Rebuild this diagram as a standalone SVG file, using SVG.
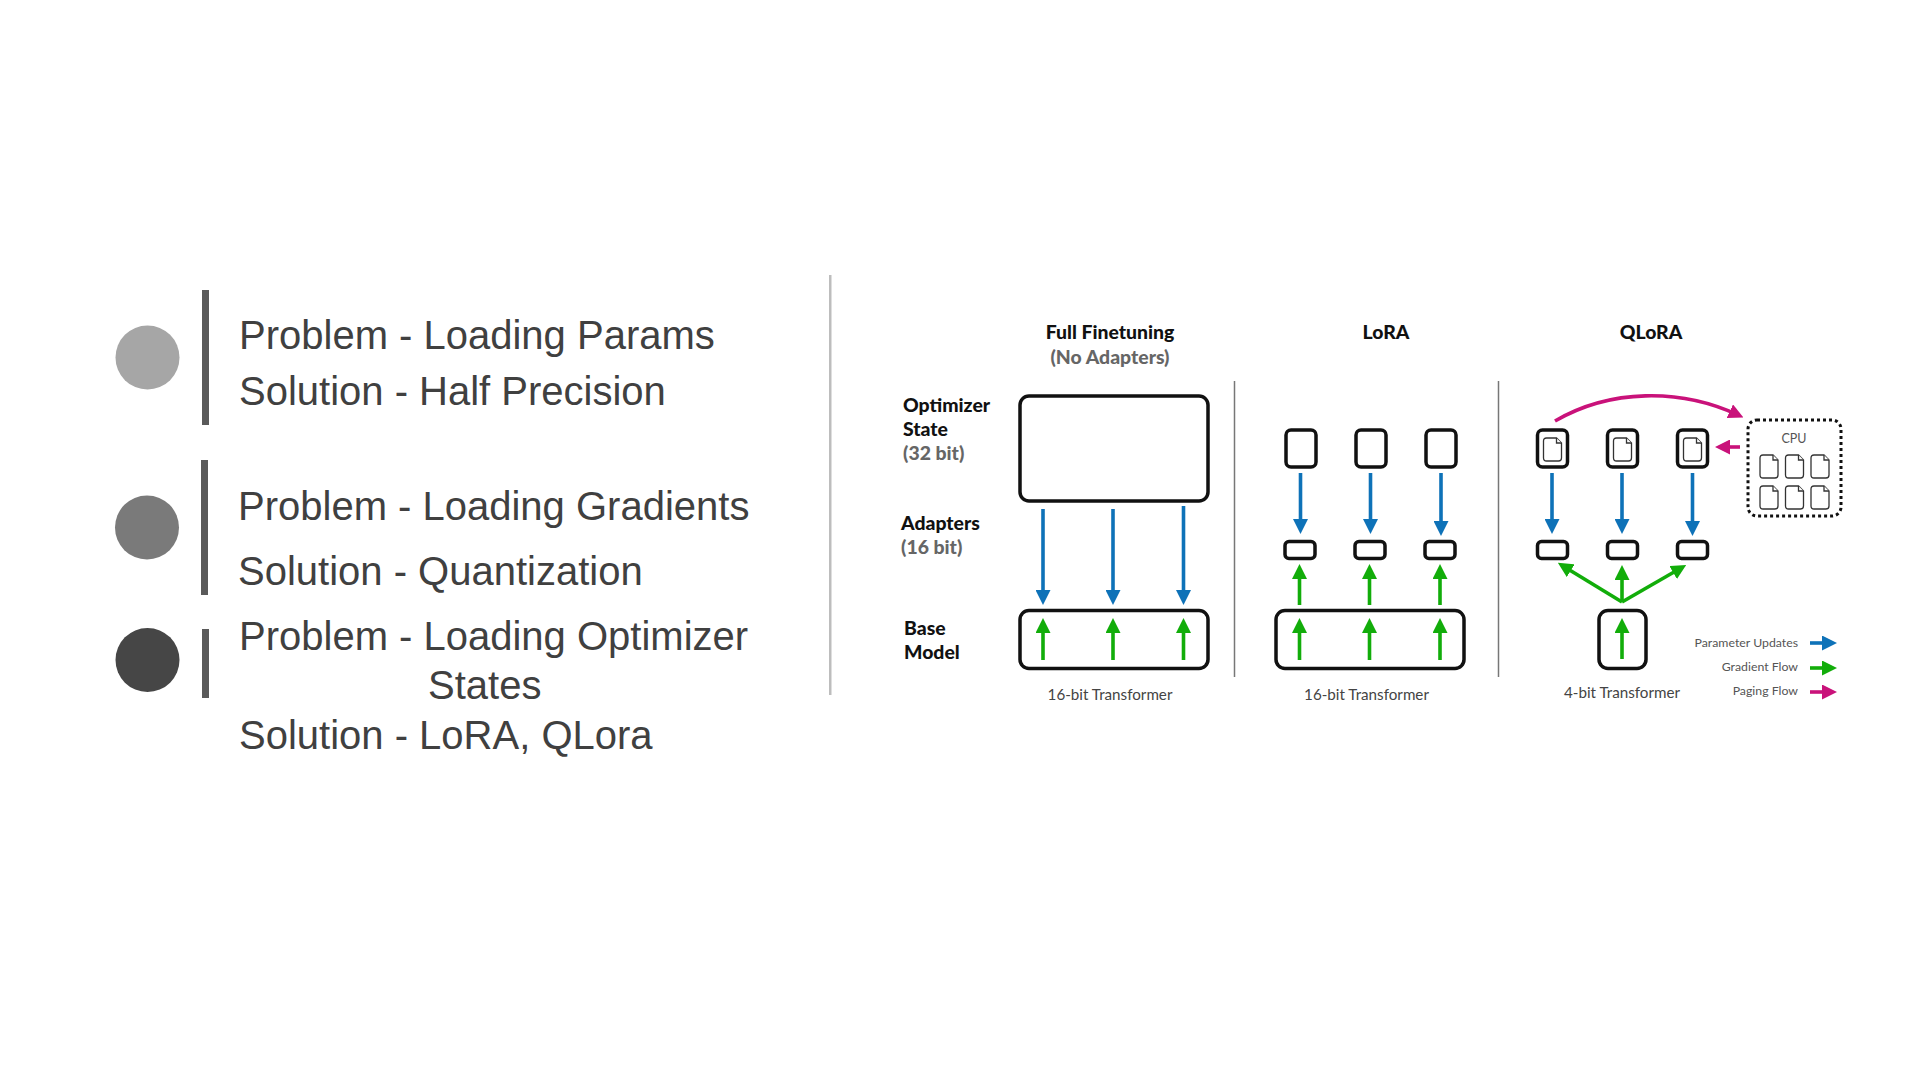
<svg xmlns="http://www.w3.org/2000/svg" xmlns:xlink="http://www.w3.org/1999/xlink" width="1920" height="1080" viewBox="0 0 1920 1080">
<style>
.t{font-family:"Liberation Sans",Arial,sans-serif;font-size:40px;fill:#404040}
.bar{fill:#5a5a5a}
.b{font-family:Lato,"Noto Sans",sans-serif;font-weight:900;font-size:19.400px;fill:#111}
.g{fill:#666}
.m{text-anchor:middle}
.s{font-family:Lato,"Noto Sans",sans-serif;font-size:15.200px;fill:#444}
.l{font-family:Lato,"Noto Sans",sans-serif;font-size:12.300px;fill:#555;text-anchor:end}
.box{fill:#fff;stroke:#111;stroke-width:3.500}
.doc{fill:#fff;stroke:#333;stroke-width:1.300}
.div{stroke:#777;stroke-width:1.500}
.blue{stroke:#0e72b8;stroke-width:3.600;fill:none;marker-end:url(#ab)}
.green{stroke:#12ad0a;stroke-width:3.600;fill:none;marker-end:url(#ag)}
.pink{stroke:#c9127a;stroke-width:3.600;fill:none;marker-end:url(#ap)}
</style>
<defs>
<marker id="ab" markerUnits="userSpaceOnUse" markerWidth="15" markerHeight="15" refX="9" refY="7.500" orient="auto"><path d="M0,0L15,7.500L0,15z" fill="#0e72b8"/></marker>
<marker id="ag" markerUnits="userSpaceOnUse" markerWidth="15" markerHeight="15" refX="9" refY="7.500" orient="auto"><path d="M0,0L15,7.500L0,15z" fill="#12ad0a"/></marker>
<marker id="ap" markerUnits="userSpaceOnUse" markerWidth="15" markerHeight="15" refX="9" refY="7.500" orient="auto"><path d="M0,0L15,7.500L0,15z" fill="#c9127a"/></marker>
<g id="doc"><path class="doc" d="M3,0H13L18,5V20Q18,23 15,23H3Q0,23 0,20V3Q0,0 3,0Z"/><path class="doc" d="M13,0V5H18"/></g>
</defs>
<rect width="1920" height="1080" fill="#fff"/>
<g id="item-1">
<circle cx="147.500" cy="357.500" r="32" fill="#a6a6a6"/>
<rect class="bar" x="202" y="290" width="7" height="135"/>
<text class="t" x="239" y="349">Problem - Loading Params</text>
<text class="t" x="239" y="405">Solution - Half Precision</text>
</g>
<g id="item-2">
<circle cx="147" cy="527.500" r="32" fill="#7a7a7a"/>
<rect class="bar" x="201" y="460" width="7" height="135"/>
<text class="t" x="238" y="520">Problem - Loading Gradients</text>
<text class="t" x="238" y="585">Solution - Quantization</text>
</g>
<g id="item-3">
<circle cx="147.500" cy="660" r="32" fill="#464646"/>
<rect class="bar" x="202" y="629" width="7" height="69"/>
<text class="t" x="239" y="650">Problem - Loading Optimizer</text>
<text class="t" x="428" y="699">States</text>
<text class="t" x="239" y="749">Solution - LoRA, QLora</text>
</g>
<rect id="separator" x="829" y="275" width="2.500" height="420" fill="#bdbdbd"/>

<g id="labels">
<text class="b m" x="1110" y="339">Full Finetuning</text>
<text class="b g m" x="1110" y="364">(No Adapters)</text>
<text class="b m" x="1386" y="339">LoRA</text>
<text class="b m" x="1651" y="339">QLoRA</text>
<text class="b" x="903" y="412">Optimizer</text>
<text class="b" x="903" y="436">State</text>
<text class="b g" x="903" y="460">(32 bit)</text>
<text class="b" x="901" y="530">Adapters</text>
<text class="b g" x="901" y="554">(16 bit)</text>
<text class="b" x="904" y="635">Base</text>
<text class="b" x="904" y="659">Model</text>
<text class="s m" x="1110" y="700">16-bit Transformer</text>
<text class="s m" x="1366.500" y="700">16-bit Transformer</text>
<text class="s m" x="1622" y="698">4-bit Transformer</text>
</g>
<g id="dividers">
<line class="div" x1="1234.500" y1="381" x2="1234.500" y2="677"/>
<line class="div" x1="1498.500" y1="381" x2="1498.500" y2="677"/>
</g>

<g id="full-optimizer"><rect class="box" x="1020" y="396" width="188" height="105" rx="9"/></g>
<g id="full-base"><rect class="box" x="1020" y="610.500" width="188" height="58" rx="9"/></g>

<g id="lora-optimizer-1"><rect class="box" x="1286" y="430" width="30" height="37" rx="5"/></g>
<g id="lora-optimizer-2"><rect class="box" x="1356" y="430" width="30" height="37" rx="5"/></g>
<g id="lora-optimizer-3"><rect class="box" x="1426" y="430" width="30" height="37" rx="5"/></g>
<g id="lora-adapter-1"><rect class="box" x="1285" y="541.500" width="30" height="17" rx="4"/></g>
<g id="lora-adapter-2"><rect class="box" x="1355" y="541.500" width="30" height="17" rx="4"/></g>
<g id="lora-adapter-3"><rect class="box" x="1425" y="541.500" width="30" height="17" rx="4"/></g>
<g id="lora-base"><rect class="box" x="1276" y="610.500" width="188" height="58" rx="9"/></g>

<g id="qlora-optimizer-1"><rect class="box" x="1537.500" y="430" width="30" height="37" rx="5"/><use xlink:href="#doc" href="#doc" x="1543.500" y="438"/></g>
<g id="qlora-optimizer-2"><rect class="box" x="1607.500" y="430" width="30" height="37" rx="5"/><use xlink:href="#doc" href="#doc" x="1613.500" y="438"/></g>
<g id="qlora-optimizer-3"><rect class="box" x="1677.500" y="430" width="30" height="37" rx="5"/><use xlink:href="#doc" href="#doc" x="1683.500" y="438"/></g>
<g id="qlora-adapter-1"><rect class="box" x="1537.500" y="541.500" width="30" height="17" rx="4"/></g>
<g id="qlora-adapter-2"><rect class="box" x="1607.500" y="541.500" width="30" height="17" rx="4"/></g>
<g id="qlora-adapter-3"><rect class="box" x="1677.500" y="541.500" width="30" height="17" rx="4"/></g>
<g id="qlora-base"><rect class="box" x="1599" y="610.500" width="47" height="58" rx="9"/></g>

<g id="cpu">
<rect x="1748" y="420" width="93" height="96" rx="9" fill="#fff" stroke="#111" stroke-width="3" stroke-dasharray="3 3"/>
<text class="l" x="1794" y="443" style="text-anchor:middle;font-size:12.500px">CPU</text>
<use xlink:href="#doc" href="#doc" x="1760" y="455"/>
<use xlink:href="#doc" href="#doc" x="1785.500" y="455"/>
<use xlink:href="#doc" href="#doc" x="1811" y="455"/>
<use xlink:href="#doc" href="#doc" x="1760" y="486"/>
<use xlink:href="#doc" href="#doc" x="1785.500" y="486"/>
<use xlink:href="#doc" href="#doc" x="1811" y="486"/>
</g>

<g id="legend">
<text class="l" x="1798" y="647">Parameter Updates</text>
<text class="l" x="1798" y="671">Gradient Flow</text>
<text class="l" x="1798" y="695">Paging Flow</text>
</g>

<g id="connectors">
<line class="blue" x1="1043" y1="509" x2="1043" y2="599"/>
<line class="blue" x1="1113" y1="509" x2="1113" y2="599"/>
<line class="blue" x1="1183.500" y1="506" x2="1183.500" y2="599"/>
<line class="green" x1="1043" y1="660" x2="1043" y2="624"/>
<line class="green" x1="1113" y1="660" x2="1113" y2="624"/>
<line class="green" x1="1183.500" y1="660" x2="1183.500" y2="624"/>

<line class="blue" x1="1300.500" y1="473" x2="1300.500" y2="528"/>
<line class="blue" x1="1370.500" y1="473" x2="1370.500" y2="528"/>
<line class="blue" x1="1441" y1="473" x2="1441" y2="530"/>
<line class="green" x1="1299.500" y1="605" x2="1299.500" y2="570"/>
<line class="green" x1="1369.500" y1="605" x2="1369.500" y2="570"/>
<line class="green" x1="1440" y1="605" x2="1440" y2="570"/>
<line class="green" x1="1299.500" y1="660" x2="1299.500" y2="624"/>
<line class="green" x1="1369.500" y1="660" x2="1369.500" y2="624"/>
<line class="green" x1="1440" y1="660" x2="1440" y2="624"/>

<line class="blue" x1="1552" y1="473" x2="1552" y2="528"/>
<line class="blue" x1="1622" y1="473" x2="1622" y2="528"/>
<line class="blue" x1="1692.500" y1="473" x2="1692.500" y2="530"/>
<line class="green" x1="1622" y1="602" x2="1563" y2="566"/>
<line class="green" x1="1622" y1="602" x2="1622" y2="571"/>
<line class="green" x1="1622" y1="602" x2="1681" y2="568"/>
<line class="green" x1="1622" y1="659" x2="1622" y2="624"/>
<path class="pink" d="M1555,421C1610,389 1680,388 1738,415"/>
<line class="pink" x1="1740" y1="447" x2="1721" y2="447"/>

<line class="blue" x1="1810" y1="643" x2="1831" y2="643"/>
<line class="green" x1="1810" y1="668" x2="1831" y2="668"/>
<line class="pink" x1="1810" y1="692" x2="1831" y2="692"/>
</g>
</svg>
